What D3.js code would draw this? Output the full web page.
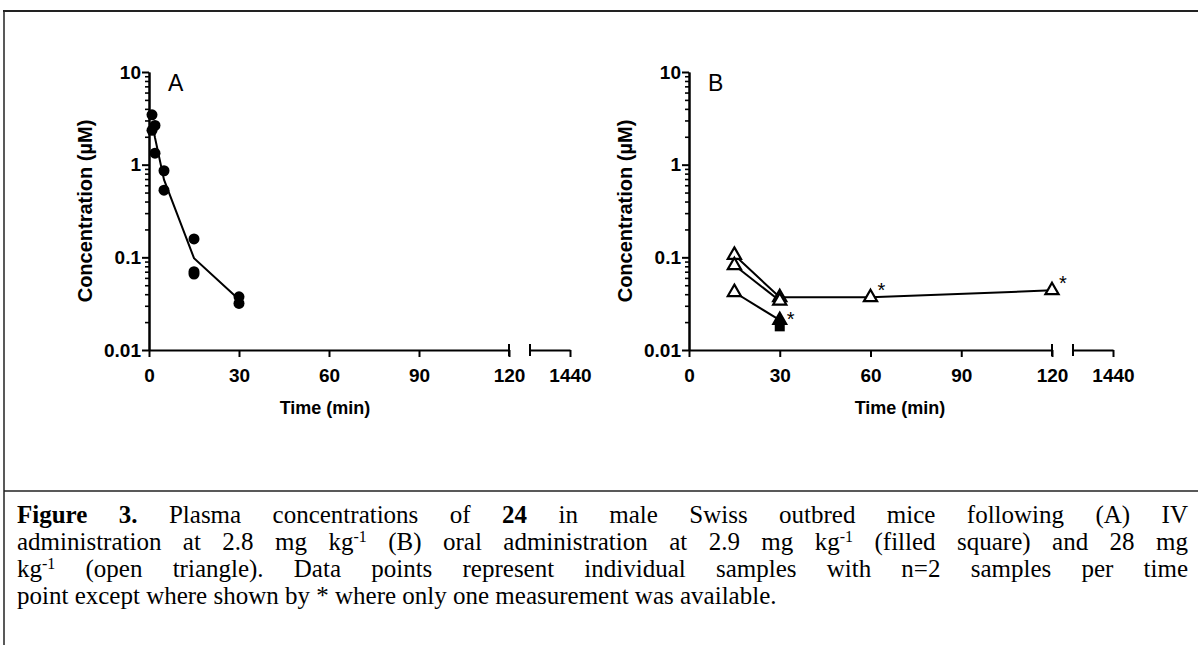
<!DOCTYPE html>
<html>
<head>
<meta charset="utf-8">
<script src="https://cdn.jsdelivr.net/npm/d3@7"></script>
<style>
	body { margin: 0; background: #fff; }
	#wrap { position: relative; width: 1198px; height: 645px; overflow: hidden; }
	svg { position: absolute; left: 0; top: 0; }
	.axis text { font-family: 'Liberation Sans', Arial, sans-serif; font-weight: bold; font-size: 19px; fill: #000; }
	.axis path, .axis line { stroke: #000; stroke-width: 2; }
	.axis.minor line { stroke-width: 1.6; }
	.caption { position: absolute; left: 17px; width: 1171px; font-family: 'Liberation Serif', 'Times New Roman', serif; font-size: 25px; color: #000; }
	.caption div { height: 27px; line-height: 27px; text-align: justify; text-align-last: justify; white-space: nowrap; }
	.caption div.last { text-align-last: left; }
	.caption sup { font-size: 16px; vertical-align: 8px; line-height: 0; }
</style>
</head>
<body>
<div id="wrap"></div>
<script>

// time points and concentrations (µM)
const ivTime  = [1, 1, 2, 2, 5, 5, 15, 15, 15, 30, 30]
const ivConc  = [3.45, 2.35, 2.65, 1.33, 0.86, 0.53, 0.158, 0.070, 0.066, 0.0375, 0.0318]
const ivMeanTime = [1, 2, 5, 15, 30]
const ivMeanConc = [2.9, 1.95, 0.69, 0.098, 0.035]

// oral 28 mg/kg (open triangles)
const poTime = [15, 15, 15, 30, 30, 60, 120]
const poConc = [0.106, 0.082, 0.042, 0.037, 0.034, 0.037, 0.044]
const poLines = [
	[[15, 0.106], [30, 0.037], [60, 0.037], [120, 0.044]],
	[[15, 0.082], [30, 0.034]],
	[[15, 0.042], [30, 0.021]]
]
// oral 2.9 mg/kg (filled) at 30 min
const lowTri = [[30, 0.021]]
const lowSquare = [[30, 0.018]]
// single measurement markers
const starPoints = [[30, 0.018], [60, 0.037], [120, 0.044]]

const xTicks = [0, 30, 60, 90, 120]
const breakTick = [1440]
const yMajor = [0.01, 0.1, 1, 10]
const yLabels = ['0.01', '0.1', '1', '10']

const captionLines = [
	'<b>Figure 3.</b> Plasma concentrations of <b>24</b> in male Swiss outbred mice following (A) IV',
	'administration at 2.8 mg kg<sup>-1</sup> (B) oral administration at 2.9 mg kg<sup>-1</sup> (filled square) and 28 mg',
	'kg<sup>-1</sup> (open triangle). Data points represent individual samples with n=2 samples per time',
	'point except where shown by * where only one measurement was available.'
]

var width = 1198
var height = 645

var wrap = d3.select('#wrap')

var svg = wrap.append('svg')
	.attr('width', width)
	.attr('height', height)

// frame
svg.append('line').attr('x1', 3).attr('x2', width).attr('y1', 11).attr('y2', 11)
	.attr('stroke', '#222').attr('stroke-width', 2)
svg.append('line').attr('x1', 4).attr('x2', 4).attr('y1', 10).attr('y2', height)
	.attr('stroke', '#222').attr('stroke-width', 1.5)
svg.append('line').attr('x1', 4).attr('x2', width).attr('y1', 491).attr('y2', 491)
	.attr('stroke', '#222').attr('stroke-width', 1.5)

function drawPanel(cfg) {

	var g = svg.append('g')

	var x = d3.scaleLinear()
		.domain([0, 120])
		.range([cfg.left, cfg.left + cfg.w])

	var xb = d3.scaleLinear()
		.domain([1320, 1440])
		.range([cfg.left + cfg.w + 21, cfg.left + cfg.w + 61])

	var y = d3.scaleLog()
		.domain([0.01, 10])
		.range([350, 72])

	// y axis, minor ticks first
	g.append('g')
		.attr('class', 'axis minor')
		.attr('transform', `translate(${cfg.left}, 0)`)
		.call(d3.axisLeft(y)
			.tickValues(y.ticks().filter(v => yMajor.indexOf(v) < 0))
			.tickSize(4)
			.tickSizeOuter(0)
			.tickFormat(''))

	g.append('g')
		.attr('class', 'axis')
		.attr('transform', `translate(${cfg.left}, 0)`)
		.call(d3.axisLeft(y)
			.tickValues(yMajor)
			.tickSize(7)
			.tickSizeOuter(0)
			.tickPadding(1)
			.tickFormat((d, i) => yLabels[i]))

	// x axis with break
	g.append('g')
		.attr('class', 'axis')
		.attr('transform', `translate(0, ${y(0.01)})`)
		.call(d3.axisBottom(x)
			.tickValues(xTicks)
			.tickSize(7)
			.tickSizeOuter(0)
			.tickPadding(12))

	g.append('g')
		.attr('class', 'axis')
		.attr('transform', `translate(0, ${y(0.01)})`)
		.call(d3.axisBottom(xb)
			.tickValues(breakTick)
			.tickSize(7)
			.tickSizeOuter(0)
			.tickPadding(12)
			.tickFormat(d3.format('d')))

	// break end caps
	g.selectAll('line.cap')
		.data([x(120), xb(1320)])
		.enter().append('line')
			.attr('class', 'cap')
			.attr('x1', d => d).attr('x2', d => d)
			.attr('y1', y(0.01) - 6).attr('y2', y(0.01) + 6)
			.attr('stroke', '#000').attr('stroke-width', 2)

	g.append('text')
		.attr('transform', `translate(${cfg.ylabX}, ${(y(10) + y(0.01)) / 2}) rotate(-90)`)
		.attr('text-anchor', 'middle')
		.style('font-family', "'Liberation Sans', Arial, sans-serif")
		.style('font-weight', 'bold')
		.style('font-size', '20px')
		.text('Concentration (µM)')

	g.append('text')
		.attr('x', cfg.xlabX)
		.attr('y', 414)
		.attr('text-anchor', 'middle')
		.style('font-family', "'Liberation Sans', Arial, sans-serif")
		.style('font-weight', 'bold')
		.style('font-size', '18px')
		.text('Time (min)')

	g.append('text')
		.attr('x', cfg.left + 19)
		.attr('y', 91)
		.style('font-family', "'Liberation Sans', Arial, sans-serif")
		.style('font-size', '23px')
		.text(cfg.name)

	return { g, x, y }
}

var A = drawPanel({ name: 'A', left: 149, w: 360, ylabX: 92, xlabX: 325 })
var B = drawPanel({ name: 'B', left: 689, w: 363, ylabX: 632, xlabX: 900 })

var lineA = d3.line()
	.x((d, i) => A.x(ivMeanTime[i]))
	.y(d => A.y(d))

A.g.append('path')
	.datum(ivMeanConc)
	.attr('d', lineA)
	.attr('fill', 'none')
	.attr('stroke', '#000')
	.attr('stroke-width', 2)

A.g.selectAll('circle.pt')
	.data(ivConc)
	.enter().append('circle')
		.attr('class', 'pt')
		.attr('cx', (d, i) => A.x(ivTime[i]))
		.attr('cy', d => A.y(d))
		.attr('r', 5.5)
		.attr('fill', '#000')

var lineB = d3.line()
	.x(d => B.x(d[0]))
	.y(d => B.y(d[1]))

B.g.selectAll('path.prof')
	.data(poLines)
	.enter().append('path')
		.attr('class', 'prof')
		.attr('d', lineB)
		.attr('fill', 'none')
		.attr('stroke', '#000')
		.attr('stroke-width', 2)

var tri = d3.symbol().type(d3.symbolTriangle).size(75)

B.g.selectAll('rect.sq')
	.data(lowSquare)
	.enter().append('rect')
		.attr('class', 'sq')
		.attr('x', d => B.x(d[0]) - 5)
		.attr('y', d => B.y(d[1]) - 5)
		.attr('width', 10)
		.attr('height', 10)
		.attr('fill', '#000')

B.g.selectAll('path.ftri')
	.data(lowTri)
	.enter().append('path')
		.attr('class', 'ftri')
		.attr('d', tri)
		.attr('transform', d => `translate(${B.x(d[0])}, ${B.y(d[1])})`)
		.attr('fill', '#000')
		.attr('stroke', '#000')
		.attr('stroke-width', 2)

B.g.selectAll('path.otri')
	.data(poConc)
	.enter().append('path')
		.attr('class', 'otri')
		.attr('d', tri)
		.attr('transform', (d, i) => `translate(${B.x(poTime[i])}, ${B.y(d)})`)
		.attr('fill', '#fff')
		.attr('stroke', '#000')
		.attr('stroke-width', 2.2)

B.g.selectAll('text.star')
	.data(starPoints)
	.enter().append('text')
		.attr('class', 'star')
		.attr('x', d => B.x(d[0]) + 7)
		.attr('y', d => B.y(d[1]))
		.style('font-family', "'Liberation Sans', Arial, sans-serif")
		.style('font-size', '20px')
		.text('*')

// caption
var cap = wrap.append('div')
	.attr('class', 'caption')
	.style('top', '501px')

cap.selectAll('div')
	.data(captionLines)
	.enter().append('div')
		.attr('class', (d, i) => i === captionLines.length - 1 ? 'last' : null)
		.html(d => d)

</script>
</body>
</html>
